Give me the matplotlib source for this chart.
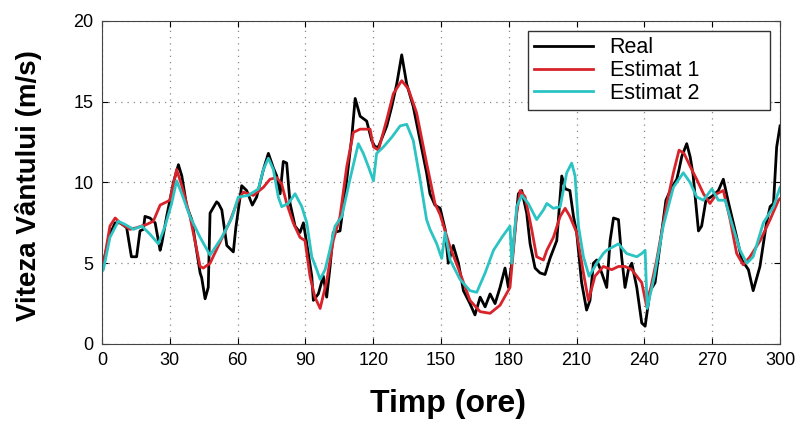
import matplotlib
matplotlib.use("Agg")
import matplotlib.pyplot as plt
import numpy as np

plt.rcParams["font.family"] = ["Liberation Sans", "DejaVu Sans"]

# Real (measured) wind speed
t_real = [0, 0.5, 3.5, 5.8, 8, 10.9, 13, 15.3, 16.8, 18.3, 19, 21.2, 23.5, 25.7, 26.4, 28.6,
          31.6, 33.8, 35.3, 37.5, 39.7, 43.4, 44.1, 45.6, 47, 47.8, 50.7, 51.5, 53, 55.2,
          58.1, 59.2, 61.8, 64, 66.5, 68.4, 71.4, 73.6, 75.8, 77.3, 78.8, 80.2, 81.7, 83.2,
          85.4, 87.6, 89.1, 90.6, 92.8, 93.5, 95.7, 97.9, 99.4, 100.9, 102.3, 105.3, 108.3,
          110.5, 112, 114.2, 117.1, 119.3, 120.8, 122.3, 126, 128.2, 130.4, 132.6, 134.8,
          137.7, 140.7, 143.6, 145.1, 147.3, 149.6, 151.8, 153.2, 155.4, 157.7, 159.9, 162.8,
          165, 167.3, 169.5, 171.7, 173.9, 176.1, 178.3, 179.8, 181.3, 184.2, 185.7, 187.9,
          189.4, 191.6, 193.8, 196, 198.2, 201.2, 203.4, 205, 207, 208.6, 210, 212.2, 214.4,
          215.9, 217.4, 218.9, 221.1, 223.3, 224.8, 226.3, 228.5, 229.9, 231.4, 232.9, 234.4,
          236.6, 238.8, 240.3, 242.5, 244.7, 249.5, 252.1, 254.3, 255.3, 256.5, 258.7, 260.2,
          261.5, 263.9, 265.3, 267.2, 270.5, 272.7, 274.9, 277.1, 280.5, 283.1, 286, 288.1,
          291.1, 294, 295.6, 297.1, 298.5, 300]
v_real = [4.7, 5.0, 6.8, 7.5, 7.5, 7.2, 5.4, 5.4, 7.0, 7.1, 7.9, 7.8, 7.5, 5.8, 6.2, 7.9,
          10.0, 11.1, 10.4, 8.5, 7.7, 4.4, 4.1, 2.8, 3.5, 8.1, 8.8, 8.7, 8.3, 6.1,
          5.7, 7.2, 9.8, 9.5, 8.6, 9.1, 10.8, 11.8, 10.9, 10.4, 9.3, 11.3, 11.2, 8.7,
          7.3, 6.9, 7.5, 6.2, 4.2, 2.7, 3.1, 4.2, 2.9, 4.8, 6.9, 7.0, 10.2,
          12.8, 15.2, 14.1, 13.8, 12.6, 12.2, 12.2, 13.5, 14.7, 16.1, 17.9, 16.1,
          14.7, 12.6, 10.6, 9.3, 8.6, 8.4, 7.1, 5.0, 6.1, 5.0, 3.3, 2.5,
          1.8, 2.9, 2.3, 3.1, 2.5, 3.5, 4.7, 3.5, 5.0, 9.3, 9.5, 8.1,
          6.2, 4.7, 4.4, 4.3, 5.3, 6.4, 10.4, 9.6, 9.5, 7.9, 6.9, 3.8, 2.1,
          2.7, 5.0, 5.2, 4.4, 3.5, 6.4, 7.8, 7.7, 5.4, 3.5, 4.6, 5.0,
          3.5, 1.3, 1.1, 3.3, 3.8, 8.9, 9.7, 10.2, 10.8, 11.6, 12.4, 11.6,
          10.5, 7.0, 7.3, 8.9, 9.2, 9.5, 10.2, 8.8, 6.8, 5.2, 4.6, 3.3,
          4.8, 7.5, 8.5, 8.7, 12.2, 13.5]

# Estimat 1
t_est1 = [0, 0.6, 3.5, 5.8, 8, 12.4, 15.3, 19.7, 22.7, 25.7, 28.6, 30, 33, 35.3, 38.9, 43.4,
          44.8, 47.8, 52.2, 56.6, 59.6, 62.5, 67, 71.4, 74.3, 77.3, 79.5, 81.7, 84.6, 87.6,
          89.8, 92, 94.2, 96.5, 99.4, 102.3, 105.3, 108.3, 111.2, 114.2, 118.6, 120.1, 122.3,
          126, 128.9, 132.6, 135.5, 139.2, 143.6, 145.1, 147.3, 149.6, 154, 158.4, 162.8,
          167.3, 171.7, 176.1, 180.5, 183.5, 185, 187.2, 190.1, 192.3, 195.3, 196.8, 199.7,
          202.7, 204.9, 207, 210, 213, 215.2, 216, 218.1, 221.8, 225.5, 228.5, 231.4, 234.4,
          236.6, 238.8, 241, 245.4, 249.9, 252.8, 255.3, 257.5, 260.2, 263.1, 266.1, 269,
          272, 274.9, 277.9, 280.8, 283.7, 286.7, 291.2, 295.6, 299.3, 300]
v_est1 = [4.6, 4.9, 7.3, 7.8, 7.5, 7.1, 7.2, 7.4, 7.6, 8.6, 8.8, 8.9, 10.8, 9.8, 7.9, 4.8,
          4.7, 5.0, 6.3, 7.6, 8.7, 9.4, 9.2, 9.7, 10.2, 10.3, 9.9, 8.7, 7.5, 6.6,
          6.4, 4.2, 2.9, 2.2, 3.9, 6.4, 7.9, 11.0, 13.1, 13.3, 13.3, 12.2, 12.0,
          13.9, 15.5, 16.3, 15.8, 14.3, 11.2, 10.2, 8.7, 8.0, 6.0, 4.4, 2.7,
          2.0, 1.9, 2.4, 3.5, 8.1, 9.5, 9.1, 7.1, 5.4, 5.2, 5.8, 6.6,
          7.9, 8.4, 7.9, 6.9, 4.4, 2.7, 3.1, 4.2, 4.8, 4.6, 4.8, 4.8, 4.6,
          4.2, 3.8, 2.3, 5.2, 8.7, 10.6, 12.0, 11.8, 11.0, 10.2, 9.3, 8.7,
          9.3, 9.5, 7.7, 5.6, 4.9, 5.4, 6.4, 7.7, 8.9, 9.0]

# Estimat 2
t_est2 = [0, 0.6, 3.5, 7.2, 10.2, 13.9, 17.6, 21.2, 24.9, 27.9, 30.8, 33, 35.3, 38.9, 43.4,
          47.8, 53, 57.4, 60.3, 64.7, 69.2, 71.4, 73.6, 75.8, 78, 79.5, 82.4, 85.4, 88.4,
          90.6, 92.8, 95, 96.5, 98.7, 100.6, 103.1, 106.1, 109.7, 113.4, 115.6, 117.8, 120.1,
          121.5, 124.5, 128.2, 131.9, 134.8, 137.7, 140.7, 143.6, 145.1, 148.1, 150.3, 151.8,
          154, 158.4, 162.8, 165.8, 169.5, 173.2, 176.9, 180.5, 181.3, 183.5, 185.7, 188.6,
          192.3, 195.3, 196.8, 199.7, 202.7, 205.6, 207.8, 209.3, 210.8, 213, 215.5, 218.9,
          221.8, 223.3, 228.5, 232.1, 236.6, 238.8, 240.3, 241.2, 244.4, 248.3, 252.8, 257.2,
          260.2, 263.1, 266.1, 269.8, 272.7, 275.7, 278.6, 282.3, 285.3, 288.1, 292.6, 297.1,
          300]
v_est2 = [4.5, 4.6, 6.6, 7.6, 7.4, 7.1, 7.3, 6.8, 6.2, 7.3, 8.7, 10.1, 9.3, 7.9, 6.6,
          5.5, 6.6, 7.8, 9.1, 9.2, 9.6, 10.8, 11.5, 10.8, 9.1, 8.5, 8.7, 9.3, 8.5,
          7.5, 5.4, 4.6, 4.0, 4.6, 5.7, 7.3, 7.9, 10.2, 12.4, 11.8, 11.0, 10.1,
          11.8, 12.2, 12.8, 13.5, 13.6, 12.6, 10.2, 7.7, 7.1, 6.2, 5.3, 6.9,
          5.2, 4.0, 3.3, 3.2, 4.4, 5.8, 6.6, 7.3, 5.0, 8.5, 9.2, 8.7,
          7.7, 8.3, 8.7, 8.4, 8.5, 10.6, 11.2, 10.4, 7.3, 5.4, 4.2, 5.0,
          5.6, 5.8, 6.2, 5.6, 5.4, 5.6, 5.8, 2.2, 4.2, 7.3, 9.7, 10.6,
          10.0, 9.1, 8.9, 9.6, 8.9, 8.9, 7.5, 5.8, 5.0, 5.4, 7.5, 8.5,
          9.7]

x_ticks = np.arange(0, 301, 30)
y_ticks = np.arange(0, 21, 5)

# %%
fig = plt.figure(figsize=(7.99, 4.23), dpi=100)
ax = fig.add_axes([0.1277, 0.1868, 0.8486, 0.7637])

ax.plot(t_real, v_real, color="black", lw=2.0, label="Real")
ax.plot(t_est1, v_est1, color="#d8232a", lw=2.0, label="Estimat 1")
ax.plot(t_est2, v_est2, color="#2cc3c3", lw=2.0, label="Estimat 2")

ax.set_xlim(0, 300)
ax.set_ylim(0, 20)
ax.set_xticks(x_ticks)
ax.set_yticks(y_ticks)
ax.tick_params(direction="in", top=True, right=True, labelsize=13, length=4, pad=6)
ax.grid(True, color="#888888", linestyle=(0, (1, 4)), lw=0.9)
for s in ax.spines.values():
    s.set_color("#444444")

ax.set_xlabel("Timp (ore)", fontsize=23, fontweight="bold")
ax.xaxis.set_label_coords(0.51, -0.14)
ax.set_ylabel("Viteza Vântului (m/s)", fontsize=20, fontweight="bold")
ax.yaxis.set_label_coords(-0.088, 0.49)

# legend stretched to the wide box of the original
leg = ax.legend(loc="upper left", bbox_to_anchor=(0.628, 0.734, 0.357, 0.235),
                mode="expand", fontsize=15.5, handlelength=2.75, fancybox=False,
                framealpha=1, edgecolor="#333333", borderpad=0.3, labelspacing=0.08,
                handletextpad=0.75, borderaxespad=0)
leg.get_frame().set_linewidth(1.0)

fig.savefig("out.png", dpi=100)
